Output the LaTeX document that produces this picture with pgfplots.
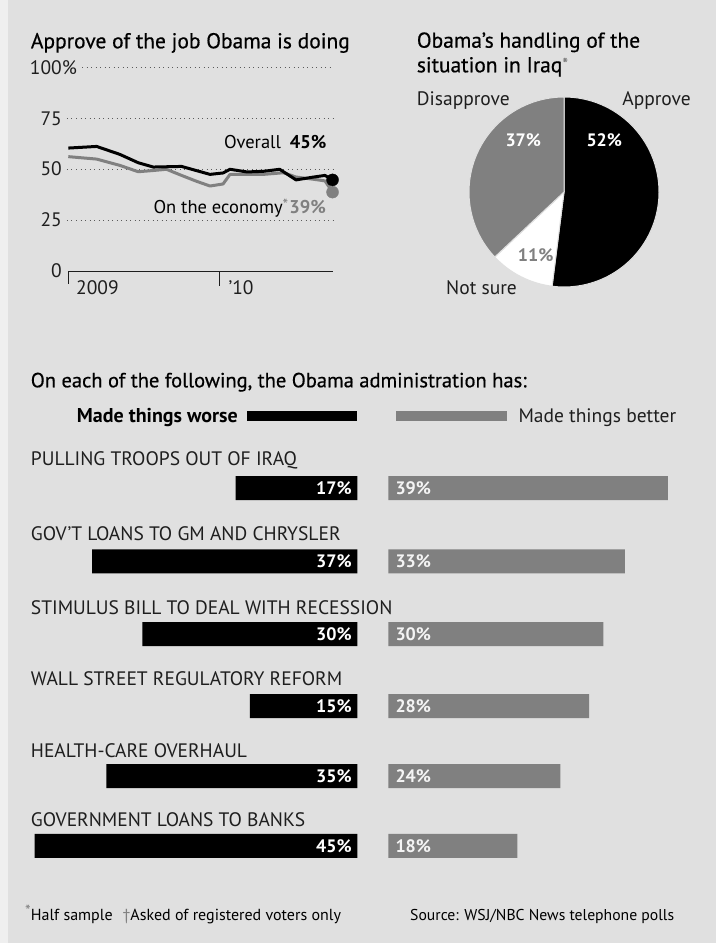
\documentclass[border=0pt]{standalone}
\usepackage{pgfplots}
\pgfplotsset{compat=1.18}
\usepackage{pgfplotstable}
\usepackage{fontspec}
\setmainfont{PT Sans}
\newfontfamily\med{PT Sans}[FakeBold=0.5]
\definecolor{bg}{HTML}{E0E0E0}
\definecolor{strip}{HTML}{EFEFEF}
\definecolor{txt}{HTML}{1E1E1E}
\definecolor{gser}{HTML}{808080}
\definecolor{gridc}{HTML}{5A5A5A}
\definecolor{lbl}{HTML}{F4F4F4}
\newcommand\fs[1]{\fontsize{#1}{#1}\selectfont}
\newcommand\astr{\raisebox{3pt}{\fs{16}\color{gser}*}}

\pgfplotstableread{
x y
0 60.6
2.25 61.4
4.1 57.5
5.56 53.4
6.75 51.3
9 51.6
11.26 47.7
12.3 48.4
12.85 50.2
14.2 48.9
15.5 49.2
16.8 50.2
17.35 48
18.1 45
19.5 46.4
20.4 47.2
21 45
}\overall
\pgfplotstableread{
x y
0 56.4
2.25 55.2
4.1 52.1
5.56 49
6.75 49.6
7.8 50.2
9 47.2
10.2 44.3
11.26 42
12.3 43
12.85 47.7
14.2 47.7
15.5 47.7
17.1 48.5
18.1 46.4
19.5 45.3
20.4 44.5
21 39
}\economy
\pgfplotstableread{
pos worse better
488 17 39
561.3 37 33
634.2 30 30
706.2 15 28
776.2 35 24
845.8 45 18
}\bars

\begin{document}
\begin{tikzpicture}[x=1pt,y=1pt,font=\fs{19.5}\color{txt}]
\fill[bg] (0,0) rectangle (716,943);
\useasboundingbox (0,0) rectangle (716,943);
\fill[strip] (0,0) rectangle (8.3,943);

% ---------- line chart ----------
\begin{axis}[at={(68.3pt,671.3pt)}, anchor=south west, scale only axis,
  width=265pt, height=204pt, xmin=0, xmax=21.06, ymin=0, ymax=100,
  hide axis, clip=false]
\foreach \v in {25,50,75} {
  \edef\tmp{\noexpand\draw[gridc, line width=0.9pt, dash pattern=on 0.9pt off 3.6pt]
    ([xshift=-1.3pt]axis cs:0,\v) -- (axis cs:21.06,\v);}\tmp
}
\draw[gridc, line width=0.9pt, dash pattern=on 0.9pt off 3.6pt]
  ([xshift=13.7pt]axis cs:0,100) -- (axis cs:21.06,100);
\draw[txt, line width=1.3pt] (axis cs:0,0) -- (axis cs:21.06,0);
\draw[txt, line width=1.3pt] (axis cs:0,0) -- ++(0,-12pt);
\draw[txt, line width=1.3pt] (axis cs:12,0) -- ++(0,-14pt);
\addplot[gser, line width=3pt, line join=round] table[x=x,y=y] {\economy};
\addplot[black, line width=3pt, line join=round] table[x=x,y=y] {\overall};
\addplot[gser, only marks, mark=*, mark size=6pt] coordinates {(21,39)};
\addplot[black, only marks, mark=*, mark size=6pt] coordinates {(21,45)};
\end{axis}

\node[anchor=base west, inner sep=0pt, font=\fs{21.5}\med] at (30.7,894.7) {Approve of the job Obama is doing};
\node[anchor=base east, inner sep=0pt] at (62,868) {100\rlap{\%}};
\node[anchor=base east, inner sep=0pt] at (62,817) {75};
\node[anchor=base east, inner sep=0pt] at (62,767.3) {50};
\node[anchor=base east, inner sep=0pt] at (62,716.3) {25};
\node[anchor=base east, inner sep=0pt] at (62,665.7) {0};
\node[anchor=base west, inner sep=0pt] at (76,648) {2009};
\node[anchor=base west, inner sep=0pt] at (228.3,648) {’10};
\node[anchor=base east, inner sep=0pt, font=\fs{18.5}] at (326.7,794.3) {Overall\hspace{9pt}\textbf{\color{black}45\%}};
\node[anchor=base east, inner sep=0pt, font=\fs{18.5}] at (326,729.7) {On the economy\astr\hspace{1pt}\textbf{\color{gser}39\%}};

% ---------- pie ----------
\begin{axis}[at={(469pt,656pt)}, anchor=south west, scale only axis,
  width=190pt, height=190pt, xmin=-1, xmax=1, ymin=-1, ymax=1,
  hide axis, clip=false]
\pgfmathsetmacro\aA{90}
\pgfmathsetmacro\aB{90-52*3.6}
\pgfmathsetmacro\aC{\aB-11*3.6}
\pgfmathsetmacro\aD{\aC-37*3.6}
\filldraw[fill=black, draw=bg, line width=1pt] (axis cs:0,0) -- ++(\aA:95pt) arc[start angle=\aA, end angle=\aB, radius=95pt] -- cycle;
\filldraw[fill=white, draw=bg, line width=1pt] (axis cs:0,0) -- ++(\aB:95pt) arc[start angle=\aB, end angle=\aC, radius=95pt] -- cycle;
\filldraw[fill=gser, draw=bg, line width=1pt] (axis cs:0,0) -- ++(\aC:95pt) arc[start angle=\aC, end angle=\aD, radius=95pt] -- cycle;
\end{axis}
\node[anchor=base west, inner sep=0pt, font=\fs{21.5}\med] at (416.7,895.3) {Obama’s handling of the};
\node[anchor=base west, inner sep=0pt, font=\fs{21.5}\med] at (416.7,870.7) {situation in Iraq\astr};
\node[anchor=base west, inner sep=0pt] at (416.7,837.7) {Disapprove};
\node[anchor=base east, inner sep=0pt] at (691,837.7) {Approve};
\node[anchor=base west, inner sep=0pt] at (446,648.3) {Not sure};
\node[inner sep=0pt, font=\fs{18}\bfseries, text=white] at (604.3,802.3) {52\%};
\node[inner sep=0pt, font=\fs{18}\bfseries, text=white] at (523.3,802.3) {37\%};
\node[inner sep=0pt, font=\fs{18}\bfseries, text=gser] at (535.7,688) {11\%};

% ---------- bars ----------
\node[anchor=base west, inner sep=0pt, font=\fs{20.5}\med] at (30.6,555.7) {On each of the following, the Obama administration has:};
\node[anchor=base east, inner sep=0pt, font=\fs{20}\bfseries] at (238,520.7) {Made things worse};
\fill[black] (247,522.3) rectangle (357,532.3);
\fill[gser] (396,522.3) rectangle (506.7,532.3);
\node[anchor=base west, inner sep=0pt] at (518.3,520.7) {Made things better};

\begin{axis}[at={(34.75pt,73pt)}, anchor=south west, scale only axis,
  width=322.65pt, height=430pt, xmin=0, xmax=45, x dir=reverse,
  ymin=440, ymax=870, y dir=reverse, hide axis, clip=false]
\addplot[xbar, bar width=24pt, bar shift=0pt, fill=black, draw=none] table[x=worse, y=pos] {\bars};
\addplot[draw=none, mark=none, point meta=explicit symbolic,
  nodes near coords={\pgfplotspointmeta\%},
  every node near coord/.style={anchor=east, xshift=-5.5pt, inner sep=0pt, font=\fs{18}\bfseries, text=white}]
  table[x expr=0, y=pos, meta=worse] {\bars};
\end{axis}
\begin{axis}[at={(388.3pt,73pt)}, anchor=south west, scale only axis,
  width=286.8pt, height=430pt, xmin=0, xmax=40,
  ymin=440, ymax=870, y dir=reverse, hide axis, clip=false]
\addplot[xbar, bar width=24pt, bar shift=0pt, fill=gser, draw=none] table[x=better, y=pos] {\bars};
\addplot[draw=none, mark=none, point meta=explicit symbolic,
  nodes near coords={\pgfplotspointmeta\%},
  every node near coord/.style={anchor=west, xshift=7pt, inner sep=0pt, font=\fs{18}\bfseries, text=lbl}]
  table[x expr=0, y=pos, meta=better] {\bars};
\end{axis}

\node[anchor=base west, inner sep=0pt] at (30.7,477) {PULLING TROOPS OUT OF IRAQ};
\node[anchor=base west, inner sep=0pt] at (30.7,402.3) {GOV’T LOANS TO GM AND CHRYSLER};
\node[anchor=base west, inner sep=0pt] at (30.7,328.7) {STIMULUS BILL TO DEAL WITH RECESSION};
\node[anchor=base west, inner sep=0pt] at (30.7,257) {WALL STREET REGULATORY REFORM};
\node[anchor=base west, inner sep=0pt] at (30.7,185) {HEALTH-CARE OVERHAUL};
\node[anchor=base west, inner sep=0pt] at (30.7,116) {GOVERNMENT LOANS TO BANKS};

\node[anchor=base west, inner sep=0pt, font=\fs{16}] at (25,23) {\astr Half sample\hspace{10pt}{\color{gser}†}Asked of registered voters only};
\node[anchor=base west, inner sep=0pt, font=\fs{15.7}] at (410,23) {Source: WSJ/NBC News telephone polls};
\end{tikzpicture}
\end{document}
